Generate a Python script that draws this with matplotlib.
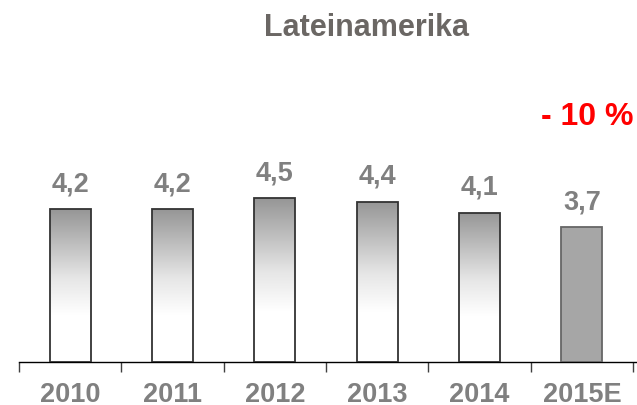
import matplotlib
matplotlib.use("Agg")
import matplotlib.pyplot as plt
import numpy as np
from matplotlib.colors import LinearSegmentedColormap

categories = ["2010", "2011", "2012", "2013", "2014", "2015E"]
values = [4.2, 4.2, 4.5, 4.4, 4.1, 3.7]
labels = ["4,2", "4,2", "4,5", "4,4", "4,1", "3,7"]
title = "Lateinamerika"
change_label = "- 10 %"

plt.rcParams['font.family'] = ['Liberation Sans', 'DejaVu Sans']

W, H = 637, 405
fig = plt.figure(figsize=(W / 100, H / 100), dpi=100)
base_px = 362
left_px, right_px = 19, 637
ax = fig.add_axes([left_px / W, (H - base_px) / H, (right_px - left_px) / W, base_px / H])
cat_w = (633 - 19) / 6.0
ax.set_xlim(-0.5, 5.5 + (right_px - 633) / cat_w)
ax.set_ylim(0, base_px / 36.4)
for s in ["top", "right", "left"]:
    ax.spines[s].set_visible(False)
ax.spines["bottom"].set_color("black")
ax.spines["bottom"].set_linewidth(1.0)
ax.set_yticks([])
xs = np.arange(len(categories))
ax.set_xticks(xs)
ax.set_xticklabels([""] * len(categories))
ax.tick_params(axis="x", which="major", length=0)
ax.set_xticks(np.arange(-0.5, 6, 1.0), minor=True)
ax.tick_params(axis="x", which="minor", length=7, width=1, color="#404040", direction="out")

# category labels below the axis (baseline at fixed pixel row)
import matplotlib.transforms as mtransforms
trans = mtransforms.blended_transform_factory(ax.transData, fig.transFigure)
for x, c in zip(xs, categories):
    ax.text(x, 1 - 402 / H, c, transform=trans, ha="center", va="baseline",
            fontsize=19.5, fontweight="bold", color="#808080")

cmap = LinearSegmentedColormap.from_list("g", [(0, "#ffffff"), (0.31, "#ffffff"), (0.55, "#e6e6e6"), (1.0, "#969696")])
bw = 0.40
bars = ax.bar(xs, values, width=bw, facecolor="none", edgecolor="#333333", linewidth=1.3, zorder=3)
grad = np.linspace(0, 1, 256).reshape(-1, 1)
for i, b in enumerate(bars):
    if i == len(bars) - 1:
        b.set_facecolor("#a6a6a6")
        b.set_edgecolor("#666666")
        continue
    x0 = b.get_x()
    im = ax.imshow(grad, cmap=cmap, origin="lower", aspect="auto",
                   extent=[x0, x0 + b.get_width(), 0, b.get_height()], zorder=2)
    im.set_clip_path(b)

for x, v, lab in zip(xs, values, labels):
    ax.annotate(lab, (x, v), xytext=(0, 13), textcoords="offset points",
                ha="center", va="baseline", fontsize=19.5, fontweight="bold", color="#808080")

fig.text(367 / W, 1 - 36 / H, title, ha="center", va="baseline", fontsize=22,
         fontweight="bold", color="#6b6764")
fig.text(587 / W, 1 - 125 / H, change_label, ha="center", va="baseline", fontsize=23,
         fontweight="bold", color="#ff0000")

fig.savefig("out.png", dpi=100)
